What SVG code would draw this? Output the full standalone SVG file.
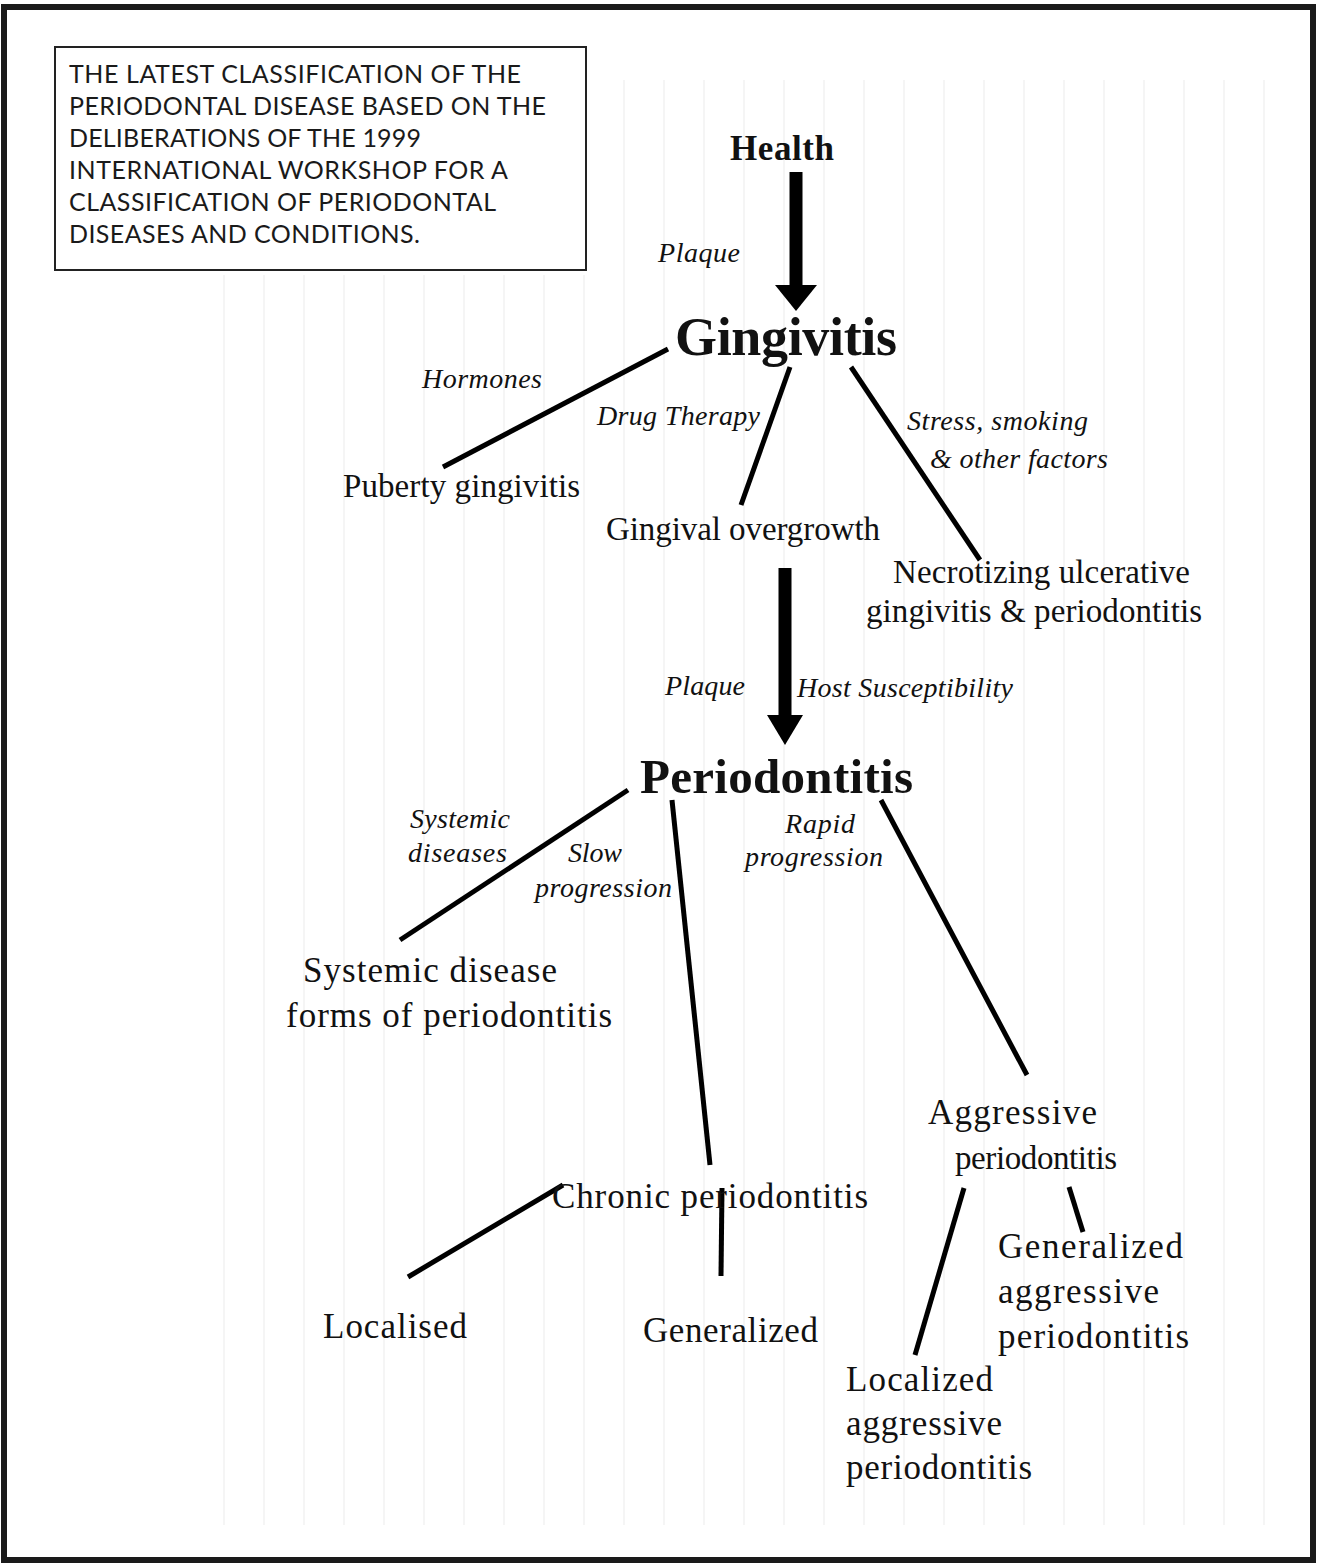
<svg xmlns="http://www.w3.org/2000/svg" width="1318" height="1564" viewBox="0 0 1318 1564">
<defs>
<style>
.frame{fill:none;stroke:#1a1a1a;stroke-width:6}
.tbox{fill:#fff;stroke:#222;stroke-width:2}
.title{font-family:"Lato","Liberation Sans",sans-serif;font-size:25px;fill:#1a1a1a}
.bold{font-family:"Liberation Serif","Times New Roman",serif;font-weight:bold;fill:#111}
.node{font-family:"Liberation Serif","Times New Roman",serif;font-size:33px;fill:#111}
.big{font-size:35px}
.lab{font-family:"Liberation Serif","Times New Roman",serif;font-style:italic;font-size:28px;fill:#111}
.con{stroke:#000;stroke-width:5;stroke-linecap:butt;fill:none}
.shaft{stroke:#000;stroke-width:13;fill:none}
.bg{stroke:#f2f2f2;stroke-width:1.5}
</style>
</defs>
<rect width="1318" height="1564" fill="#fff"/>
<g id="background">
<path class="bg" d="M224 275V1525M264 275V1525M304 275V1525M344 275V1525M384 275V1525M424 275V1525M464 275V1525M504 275V1525M544 275V1525M584 275V1525M624 80V1525M664 80V1525M704 80V1525M744 80V1525M784 80V1525M824 80V1525M864 80V1525M904 80V1525M944 80V1525M984 80V1525M1024 80V1525M1064 80V1525M1104 80V1525M1144 80V1525M1184 80V1525M1224 80V1525M1264 80V1525"/>
</g>
<rect class="frame" x="4" y="7" width="1309" height="1553"/>
<g id="title">
<rect class="tbox" x="55" y="47" width="531" height="223"/>
<text class="title" x="69" y="83" textLength="452">THE LATEST CLASSIFICATION OF THE</text>
<text class="title" x="69" y="115" textLength="477">PERIODONTAL DISEASE BASED ON THE</text>
<text class="title" x="69" y="147" textLength="352">DELIBERATIONS OF THE 1999</text>
<text class="title" x="69" y="179" textLength="439">INTERNATIONAL WORKSHOP FOR A</text>
<text class="title" x="69" y="211" textLength="427">CLASSIFICATION OF PERIODONTAL</text>
<text class="title" x="69" y="243" textLength="351">DISEASES AND CONDITIONS.</text>
</g>
<g id="connectors">
<line class="shaft" x1="796" y1="172" x2="796" y2="288"/>
<polygon points="775,285 817,285 796,311" fill="#000"/>
<line class="shaft" x1="785" y1="568" x2="785" y2="718"/>
<polygon points="767,715 803,715 785,745" fill="#000"/>
<line class="con" x1="668" y1="349" x2="443" y2="467"/>
<line class="con" x1="790" y1="367" x2="741" y2="505"/>
<line class="con" x1="851" y1="367" x2="980" y2="560"/>
<line class="con" x1="628" y1="790" x2="400" y2="940"/>
<line class="con" x1="672" y1="800" x2="710" y2="1165"/>
<line class="con" x1="881" y1="800" x2="1027" y2="1075"/>
<line class="con" x1="563" y1="1185" x2="408" y2="1277"/>
<line class="con" x1="722" y1="1188" x2="721" y2="1276"/>
<line class="con" x1="964" y1="1188" x2="915" y2="1355"/>
<line class="con" x1="1069" y1="1187" x2="1083" y2="1232"/>
</g>
<g id="labels">
<text class="lab" x="658" y="262" textLength="82">Plaque</text>
<text class="lab" x="422" y="388" textLength="120">Hormones</text>
<text class="lab" x="597" y="425" textLength="163">Drug Therapy</text>
<text class="lab" x="907" y="430" textLength="181">Stress, smoking</text>
<text class="lab" x="930" y="468" textLength="178">&amp; other factors</text>
<text class="lab" x="665" y="695" textLength="80">Plaque</text>
<text class="lab" x="797" y="697" textLength="216">Host Susceptibility</text>
<text class="lab" x="410" y="828" textLength="100">Systemic</text>
<text class="lab" x="408" y="862" textLength="99">diseases</text>
<text class="lab" x="568" y="862" textLength="54">Slow</text>
<text class="lab" x="535" y="897" textLength="137">progression</text>
<text class="lab" x="785" y="833" textLength="70">Rapid</text>
<text class="lab" x="745" y="866" textLength="138">progression</text>
</g>
<g id="health"><text class="bold" x="730" y="160" font-size="35" textLength="104">Health</text></g>
<g id="gingivitis"><text class="bold" x="675" y="355" font-size="54" textLength="222">Gingivitis</text></g>
<g id="puberty"><text class="node" x="343" y="497" textLength="237">Puberty gingivitis</text></g>
<g id="overgrowth"><text class="node" x="606" y="540" textLength="274">Gingival overgrowth</text></g>
<g id="necrotizing">
<text class="node" x="893" y="583" textLength="297">Necrotizing ulcerative</text>
<text class="node" x="866" y="622" textLength="336">gingivitis &amp; periodontitis</text>
</g>
<g id="periodontitis"><text class="bold" x="640" y="793" font-size="49" textLength="273">Periodontitis</text></g>
<g id="systemic">
<text class="node big" x="303" y="982" textLength="254">Systemic disease</text>
<text class="node big" x="286" y="1027" textLength="326">forms of periodontitis</text>
</g>
<g id="aggressive">
<text class="node big" x="928" y="1124" textLength="169">Aggressive</text>
<text class="node" x="955" y="1169" textLength="162">periodontitis</text>
</g>
<g id="chronic"><text class="node big" x="552" y="1208" textLength="316">Chronic periodontitis</text></g>
<g id="localised"><text class="node big" x="323" y="1338" textLength="144">Localised</text></g>
<g id="generalized"><text class="node big" x="643" y="1342" textLength="175">Generalized</text></g>
<g id="gen-aggressive">
<text class="node big" x="998" y="1258" textLength="185">Generalized</text>
<text class="node big" x="998" y="1303" textLength="161">aggressive</text>
<text class="node big" x="998" y="1348" textLength="191">periodontitis</text>
</g>
<g id="loc-aggressive">
<text class="node big" x="846" y="1391" textLength="147">Localized</text>
<text class="node big" x="846" y="1435" textLength="156">aggressive</text>
<text class="node big" x="846" y="1479" textLength="186">periodontitis</text>
</g>
</svg>
